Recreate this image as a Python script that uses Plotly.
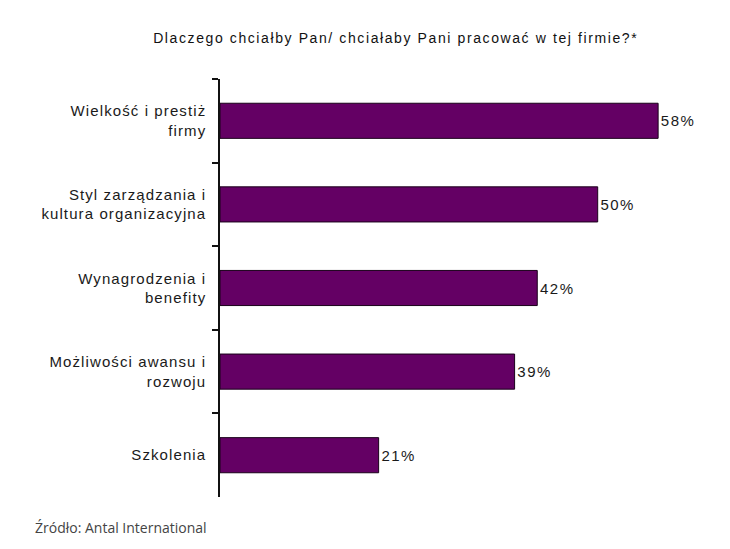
import plotly.graph_objects as go

categories = [
    "Wielkość i prestiż<br>firmy",
    "Styl zarządzania i<br>kultura organizacyjna",
    "Wynagrodzenia i<br>benefity",
    "Możliwości awansu i<br>rozwoju",
    "Szkolenia",
]
values = [58, 50, 42, 39, 21]
value_labels = ["58%", "50%", "42%", "39%", "21%"]

title_text = "Dlaczego chciałby Pan/ chciałaby Pani pracować w tej firmie?*"
source_text = "Źródło: Antal International"

FONT = "Liberation Sans, Arial"

fig = go.Figure(
    go.Bar(
        x=values,
        y=categories,
        orientation="h",
        width=0.42,
        marker=dict(color="#640064", line=dict(color="#1a001a", width=1)),
        text=value_labels,
        textposition="outside",
        textfont=dict(family=FONT, size=15, color="#1a1a1a"),
        cliponaxis=False,
    )
)

fig.update_layout(
    width=714,
    height=533,
    margin=dict(l=212, r=11, t=71, b=44),
    plot_bgcolor="white",
    paper_bgcolor="white",
    showlegend=False,
    title=dict(
        text=title_text,
        x=0.543,
        xanchor="center",
        y=0.944,
        yanchor="middle",
        font=dict(family=FONT, size=14, color="#111111"),
    ),
    xaxis=dict(range=[0, 65], visible=False, fixedrange=True),
    yaxis=dict(
        autorange="reversed",
        showline=True,
        linecolor="#111111",
        linewidth=1.5,
        ticks="outside",
        tickson="boundaries",
        ticklen=6,
        tickcolor="#111111",
        tickwidth=1.5,
        showgrid=False,
        tickfont=dict(family=FONT, size=15, color="#1a1a1a"),
        ticklabelstandoff=9,
    ),
    annotations=[
        dict(
            text=source_text,
            xref="paper",
            yref="paper",
            x=-0.381,
            y=-0.072,
            xanchor="left",
            yanchor="middle",
            showarrow=False,
            font=dict(family="Open Sans", size=14, color="#444444"),
        )
    ],
)

post = """
var gd = document.getElementById('{plot_id}');
gd.querySelectorAll('.gtitle').forEach(function(e){ e.style.letterSpacing = '1.6px'; });
gd.querySelectorAll('.ytick text').forEach(function(e){ e.style.letterSpacing = '1.1px'; });
gd.querySelectorAll('text.bartext').forEach(function(e){
    e.style.letterSpacing = '1.5px';
    var x = parseFloat(e.getAttribute('x') || '0');
    e.setAttribute('x', x + 2);
});
"""

fig.write_html("out.html", post_script=post)
